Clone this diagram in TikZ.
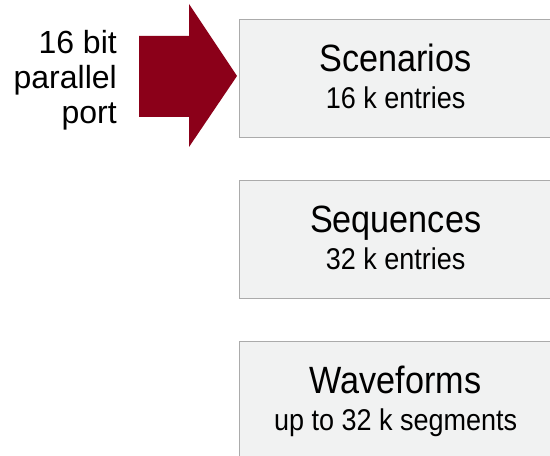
\documentclass[tikz,border=0pt]{standalone}
\usepackage{fontspec}
\setmainfont{Liberation Sans}
\newfontfamily\boxfont[FakeStretch=0.9]{Liberation Sans}
\usepackage{tikz}
\usetikzlibrary{positioning}
\definecolor{portred}{HTML}{8B0019}
\definecolor{boxgrey}{HTML}{F1F2F2}
\definecolor{edgegrey}{HTML}{ABABAB}

\tikzset{
  memblock/.style={shape=rectangle,draw=edgegrey,fill=boxgrey,line width=1.3pt,
    minimum width=312pt,minimum height=118pt,anchor=north west,inner sep=0pt},
  blocktitle/.style={anchor=base,inner sep=0pt,font=\boxfont\fontsize{38}{40}\selectfont},
  blocksub/.style={anchor=base,inner sep=0pt,font=\boxfont\fontsize{30}{34}\selectfont}
}

\begin{document}
\begin{tikzpicture}[x=1pt,y=1pt]
  \useasboundingbox (0,0) rectangle (550,456);
  \clip (0,0) rectangle (550,456);

  \node[memblock] (scen) at (239,437) {};
  \node[memblock] (seq)  at (239,276) {};
  \node[memblock] (wave) at (239,115) {};

  \node[blocktitle] (scent) at ([yshift=7pt]scen.center) {Scenarios};
  \node[blocksub]   (scens) at ([yshift=-30pt]scen.center) {16 k entries};
  \node[blocktitle] (seqt)  at ([yshift=7pt]seq.center) {Sequences};
  \node[blocksub]   (seqs)  at ([yshift=-30pt]seq.center) {32 k entries};
  \node[blocktitle] (wavet) at ([yshift=7pt]wave.center) {Waveforms};
  \node[blocksub]   (waves) at ([yshift=-30pt]wave.center) {up to 32 k segments};

  % port arrow into the scenario block
  \coordinate (tip) at (237,380);
  \fill[portred] (139,420) -- (189,420) -- (189,452) -- (tip)
    -- (189,309) -- (189,339) -- (139,339) -- cycle;

  \node[align=right,anchor=east,inner sep=0pt,font=\fontsize{32}{35}\selectfont]
    (port) at (117,376) {16 bit\\parallel\\port};
\end{tikzpicture}
\end{document}
